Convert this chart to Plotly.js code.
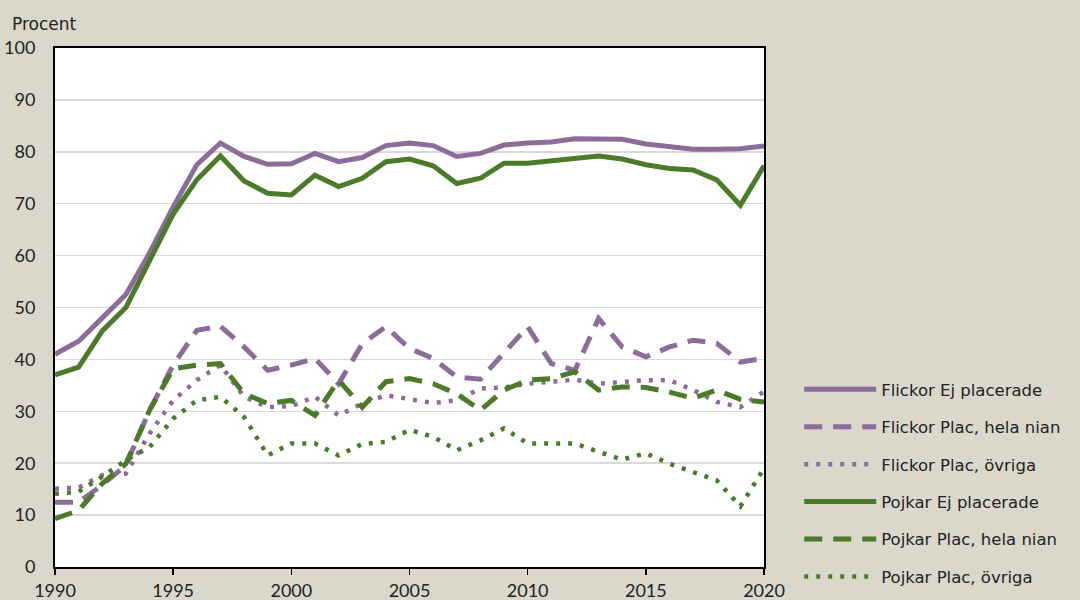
<!DOCTYPE html>
<html><head><meta charset="utf-8">
<script src="https://cdn.plot.ly/plotly-3.0.1.min.js"></script>
<style>html,body{margin:0;padding:0;background:#DAD7CB;}</style>
</head><body>
<div id="chart" style="width:1080px;height:600px;"></div>
<script>
const years = [1990,1991,1992,1993,1994,1995,1996,1997,1998,1999,2000,2001,2002,2003,2004,2005,2006,2007,2008,2009,2010,2011,2012,2013,2014,2015,2016,2017,2018,2019,2020];
const flickorEj = [41,43.5,48,52.5,60.5,69.4,77.5,81.7,79.1,77.6,77.7,79.7,78.1,78.9,81.2,81.7,81.2,79.1,79.7,81.3,81.7,81.9,82.5,82.5,82.4,81.5,81.1,80.5,80.5,80.6,81.1];
const flickorHela = [12.5,12.5,15.8,19.6,30.2,38.9,45.6,46.4,42.4,37.9,38.9,40.2,35.3,43,46.3,42.1,40.2,36.6,36.2,41.1,46.3,39.2,37.9,47.9,42.4,40.5,42.4,43.7,43.1,39.5,40.2];
const flickorOvr = [15.1,15.3,17.7,18,25.7,32.1,36,38.9,32.8,30.8,31,32.8,29.2,31.5,33.1,32.3,31.6,32.1,34.4,34.6,35.3,35.7,36.1,35.3,35.7,36,36,34.1,31.8,30.8,33.8];
const pojkarEj = [37,38.5,45.5,50,59,68,74.6,79.2,74.4,72,71.7,75.5,73.3,74.9,78.1,78.6,77.3,73.9,74.9,77.8,77.8,78.3,78.7,79.2,78.6,77.5,76.8,76.5,74.6,69.7,77.3];
const pojkarHela = [9.3,10.9,16.1,19.9,30.2,38.2,38.9,39.2,33.4,31.5,32.1,29.2,36,30.8,35.7,36.3,35.3,33.4,30.2,34.1,36,36.3,37.6,34.1,34.7,34.6,33.7,32.5,34.1,32.3,31.8];
const pojkarOvr = [14.1,14.5,17.4,20.6,23.1,28.6,32.1,32.8,28.9,21.5,23.8,23.8,21.5,23.7,24.1,26.4,25.1,22.5,24.4,26.7,23.8,23.7,23.8,22.2,20.7,21.9,19.9,18.3,16.7,11.7,19];
const seriesNames = ['Flickor Ej placerade','Flickor Plac, hela nian','Flickor Plac, övriga','Pojkar Ej placerade','Pojkar Plac, hela nian','Pojkar Plac, övriga'];
const xTicks = [1990,1995,2000,2005,2010,2015,2020];
const yTicks = [0,10,20,30,40,50,60,70,80,90,100];

const purple = '#8C6D9A', green = '#4B7B2A';
const dashLong = '18px,11px', dotPat = '4px,8px';
const specs = [
  [flickorEj, purple, 'solid', 5],
  [flickorHela, purple, dashLong, 5],
  [flickorOvr, purple, dotPat, 4.5],
  [pojkarEj, green, 'solid', 5],
  [pojkarHela, green, dashLong, 5],
  [pojkarOvr, green, dotPat, 4.5]
];
const traces = specs.map((s,i)=>({
  x: years, y: s[0], name: seriesNames[i], type:'scatter', mode:'lines',
  line:{color:s[1], dash:s[2], width:s[3]}, legendgroup:'g'+i
}));
const font = 'Lato, "Open Sans", "DejaVu Sans", sans-serif';
const wide = '"DejaVu Sans", Verdana, sans-serif';
const layout = {
  width:1080, height:600,
  paper_bgcolor:'#DAD7CB', plot_bgcolor:'#FFFFFF',
  margin:{l:55, r:316, t:48, b:33, autoexpand:false},
  font:{family:font, size:18, color:'#222'},
  showlegend:true,
  legend:{xref:'container', yref:'container', x:0.740, xanchor:'left', y:0.38, yanchor:'top', bgcolor:'rgba(0,0,0,0)',
          font:{family:wide, size:16.5, color:'#222'}, tracegroupgap:13, itemwidth:72},
  xaxis:{range:[1990,2020], tickvals:xTicks, ticktext:xTicks.map(String),
         showgrid:false, zeroline:false, showline:true, linecolor:'#000', linewidth:2, mirror:true,
         ticks:'outside', ticklen:6, tickcolor:'#000', tickwidth:1.5, tickfont:{size:18}},
  yaxis:{range:[0,100], tickvals:yTicks, ticktext:yTicks.map(String),
         showgrid:true, gridcolor:'#D9D9D9', gridwidth:1.5, zeroline:false,
         showline:true, linecolor:'#000', linewidth:2, mirror:true,
         ticks:'', ticklabelstandoff:14, tickfont:{size:18}},
  annotations:[{text:'Procent', xref:'paper', yref:'paper', x:-0.064, y:1.0, xanchor:'left', yanchor:'bottom',
                yshift:12, showarrow:false, font:{family:wide, size:17, color:'#222'}}]
};
Plotly.newPlot('chart', traces, layout, {displayModeBar:false, staticPlot:true});
</script>
</body></html>
